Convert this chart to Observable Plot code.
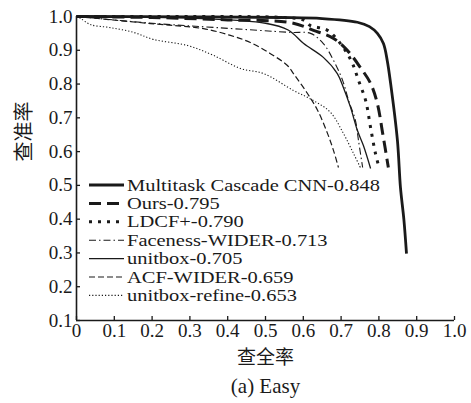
<!DOCTYPE html>
<html><head><meta charset="utf-8">
<script src="https://cdn.jsdelivr.net/npm/d3@7"></script>
<script src="https://cdn.jsdelivr.net/npm/@observablehq/plot@0.6"></script>
<style>body{margin:0;background:#fff} #chart{width:471px;height:403px}</style>
</head><body><div id="chart"></div>
<script>
const xTicks = [0, 0.1, 0.2, 0.3, 0.4, 0.5, 0.6, 0.7, 0.8, 0.9, 1.0];
const yTicks = [0.1, 0.2, 0.3, 0.4, 0.5, 0.6, 0.7, 0.8, 0.9, 1.0];
const xLabel = "查全率";
const yLabel = "查准率";
const caption = "(a) Easy";

const seriesNames = [
  "Multitask Cascade CNN-0.848",
  "Ours-0.795",
  "LDCF+-0.790",
  "Faceness-WIDER-0.713",
  "unitbox-0.705",
  "ACF-WIDER-0.659",
  "unitbox-refine-0.653"
];

const multitaskX = [0, 0.3, 0.54, 0.65, 0.743, 0.775, 0.796, 0.812, 0.822, 0.831, 0.849, 0.857, 0.866, 0.873];
const multitaskY = [1.0, 0.999, 0.997, 0.994, 0.983, 0.97, 0.950, 0.920, 0.87, 0.802, 0.633, 0.494, 0.40, 0.298];
const oursX = [0, 0.2, 0.4, 0.566, 0.627, 0.680, 0.717, 0.751, 0.778, 0.796, 0.810, 0.825];
const oursY = [1.0, 0.997, 0.99, 0.982, 0.959, 0.935, 0.899, 0.849, 0.802, 0.742, 0.654, 0.553];
const ldcfX = [0, 0.3, 0.55, 0.6, 0.619, 0.664, 0.706, 0.730, 0.746, 0.765, 0.778, 0.791, 0.799];
const ldcfY = [1.0, 1.0, 0.997, 0.99, 0.973, 0.959, 0.908, 0.861, 0.811, 0.751, 0.671, 0.594, 0.559];
const facenessX = [0, 0.2, 0.373, 0.566, 0.619, 0.653, 0.680, 0.704, 0.720, 0.738, 0.746, 0.757];
const facenessY = [1.0, 0.98, 0.967, 0.953, 0.950, 0.920, 0.870, 0.811, 0.751, 0.692, 0.633, 0.553];
const unitboxX = [0, 0.3, 0.5, 0.56, 0.601, 0.653, 0.690, 0.706, 0.725, 0.743, 0.759, 0.778];
const unitboxY = [1.0, 0.995, 0.98, 0.96, 0.920, 0.879, 0.831, 0.790, 0.731, 0.663, 0.618, 0.550];
const acfX = [0, 0.196, 0.336, 0.407, 0.460, 0.513, 0.558, 0.574, 0.611, 0.638, 0.664, 0.680, 0.693];
const acfY = [1.0, 0.979, 0.964, 0.944, 0.923, 0.890, 0.855, 0.831, 0.772, 0.722, 0.654, 0.603, 0.553];
const refineX = [0, 0.011, 0.037, 0.090, 0.151, 0.204, 0.294, 0.362, 0.434, 0.495, 0.574, 0.627, 0.672, 0.706, 0.733, 0.751];
const refineY = [1.0, 0.994, 0.976, 0.967, 0.953, 0.932, 0.914, 0.885, 0.846, 0.831, 0.781, 0.751, 0.716, 0.654, 0.594, 0.553];

const seriesX = [multitaskX, oursX, ldcfX, facenessX, unitboxX, acfX, refineX];
const seriesY = [multitaskY, oursY, ldcfY, facenessY, unitboxY, acfY, refineY];

const styles = [
  {strokeWidth: 2.8, dash: null, cap: "butt"},
  {strokeWidth: 3, dash: "12,6", cap: "butt"},
  {strokeWidth: 3, dash: "3,6", cap: "butt"},
  {strokeWidth: 1.1, dash: "7,3,1.5,3", cap: "butt"},
  {strokeWidth: 1.3, dash: null, cap: "butt"},
  {strokeWidth: 1.2, dash: "6,3", cap: "butt"},
  {strokeWidth: 1.1, dash: "1.2,2", cap: "butt"}
];

const serif = "'Liberation Serif', 'Times New Roman', 'Noto Sans CJK SC', serif";
const ink = "#1a1a1a";

const lineMarks = seriesNames.map((name, i) => {
  const rows = seriesX[i].map((x, j) => ({x, y: seriesY[i][j], name}));
  return Plot.line(rows, {
    x: "x", y: "y", stroke: ink, strokeWidth: styles[i].strokeWidth,
    strokeDasharray: styles[i].dash, strokeLinecap: styles[i].cap,
    curve: "catmull-rom"
  });
});

const plot = Plot.plot({
  width: 471,
  height: 403,
  marginLeft: 76,
  marginRight: 17,
  marginTop: 16,
  marginBottom: 83,
  style: {fontFamily: serif, background: "#fff", color: ink, overflow: "visible"},
  x: {domain: [0, 1]},
  y: {domain: [0.1, 1]},
  marks: [
    ...lineMarks,
    Plot.axisX({ticks: xTicks, tickSize: -4, tickFormat: () => "", strokeWidth: 1.3, label: null}),
    Plot.axisX({ticks: xTicks, tickSize: 0, tickPadding: 3, fontSize: 19, label: null,
      tickFormat: d => d === 0 ? "0" : d3.format(".1f")(d)}),
    Plot.axisY({ticks: yTicks, tickSize: -4, tickFormat: () => "", strokeWidth: 1.3, label: null}),
    Plot.axisY({ticks: yTicks, tickSize: 0, tickPadding: 4, fontSize: 19, label: null,
      tickFormat: d3.format(".1f")}),
    Plot.ruleX([0], {stroke: ink, strokeWidth: 1.6}),
    Plot.ruleY([0.1], {stroke: ink, strokeWidth: 1.6}),
    Plot.text([xLabel], {frameAnchor: "bottom", dy: 37, fontSize: 19, lineAnchor: "middle", fill: ink}),
    Plot.text([caption], {frameAnchor: "bottom", dy: 66, fontSize: 21, lineAnchor: "middle", fill: ink}),
    Plot.text([yLabel], {frameAnchor: "left", dx: -52, dy: -7, rotate: -90, fontSize: 20, lineAnchor: "middle", fill: ink})
  ]
});

// Legend drawn inside the plot area
const svg = d3.select(plot);
const lg = svg.append("g").attr("font-family", serif).attr("font-size", 16)
  .attr("fill", ink).attr("text-anchor", "start");
seriesNames.forEach((name, i) => {
  const cy = 185 + i * 18.4;
  lg.append("line").attr("x1", 89).attr("x2", 124).attr("y1", cy).attr("y2", cy)
    .attr("stroke", ink).attr("stroke-width", styles[i].strokeWidth)
    .attr("stroke-dasharray", styles[i].dash).attr("stroke-linecap", styles[i].cap);
  lg.append("text").attr("transform", `translate(127,${cy}) scale(1.28,1)`).attr("dy", "0.35em")
    .attr("text-anchor", "start").text(name);
});

document.getElementById("chart").appendChild(plot);
</script>
</body></html>
